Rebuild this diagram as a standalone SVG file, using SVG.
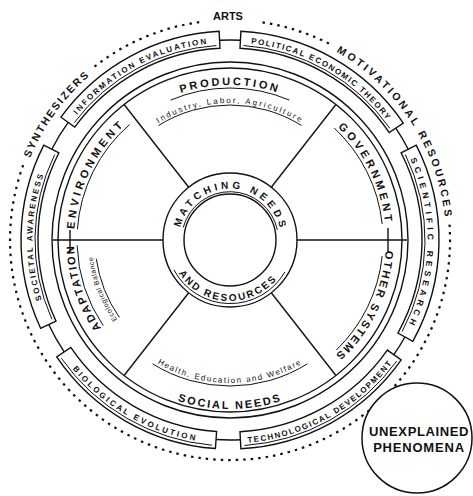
<svg xmlns="http://www.w3.org/2000/svg" width="473" height="496" viewBox="0 0 473 496">
<style>
.ln{fill:none;stroke:#111;stroke-width:1.4}
.th{fill:none;stroke:#111;stroke-width:1}
.box{fill:#fff;stroke:#111;stroke-width:1.4}
.dot{fill:none;stroke:#111;stroke-width:2.2;stroke-dasharray:2.5 5}
.t{font-family:"Liberation Sans",Arial,sans-serif;font-weight:bold;fill:#111}
.s{font-family:"Liberation Sans",Arial,sans-serif;fill:#111}
</style>
<defs>
<path id="p-synth" d="M27.0,166.1 A216,216 0 0 1 97.0,69.8"/>
<path id="p-motiv" d="M328.1,47.5 A216,216 0 0 1 445.7,228.7"/>
<path id="p-info" d="M70.2,123.9 A197.5,197.5 0 0 1 219.7,42.8"/>
<path id="p-pol" d="M240.3,42.8 A197.5,197.5 0 0 1 393.7,129.6"/>
<path id="p-right" d="M406.0,150.3 A197.5,197.5 0 0 1 402.7,335.7"/>
<path id="p-tech" d="M240.7,443.2 A203.5,203.5 0 0 0 396.7,356.7"/>
<path id="p-bio" d="M61.3,353.8 A203.5,203.5 0 0 0 215.8,443.0"/>
<path id="p-soc" d="M51.0,323.5 A197.5,197.5 0 0 1 54.0,150.3"/>
<path id="p-prod" d="M134.6,117.9 A155,155 0 0 1 325.4,117.9"/>
<path id="p-ind" d="M145.7,132.0 A137,137 0 0 1 314.3,132.0"/>
<path id="p-gov" d="M330.3,120.5 A156,156 0 0 1 385.9,234.6"/>
<path id="p-other" d="M385.9,245.4 A156,156 0 0 1 330.3,359.5"/>
<path id="p-social" d="M126.0,373.2 A169,169 0 0 0 334.0,373.2"/>
<path id="p-health" d="M142.0,352.7 A143,143 0 0 0 318.0,352.7"/>
<path id="p-adapt" d="M125.6,355.9 A156,156 0 0 1 77.4,207.6"/>
<path id="p-env" d="M74,240 A156,156 0 0 1 134.0,117.1"/>
<path id="p-eco" d="M137.7,342.6 A138,138 0 0 1 92.8,225.6"/>
<path id="p-match" d="M179.1,236.4 A51,51 0 0 1 281,240"/>
<path id="p-andres" d="M173.4,262.9 A61,61 0 0 0 283.9,268.6"/>
</defs>
<rect width="473" height="496" fill="#fff"/>

<g id="outer-ring">
<path class="dot" d="M262.5,22.4 A220,220 0 0 1 329.9,44.0"/>
<path class="dot" d="M94.5,66.6 A220,220 0 0 1 199.4,22.1"/>
<path class="dot" d="M449.5,224.7 A220,220 0 1 1 23.3,164.8"/>
</g>
<g id="arts"><text class="t" x="228" y="20" font-size="11" text-anchor="middle">ARTS</text></g>
<g id="synthesizers"><text class="t" font-size="10.5" letter-spacing="1.9"><textPath href="#p-synth" startOffset="50%" text-anchor="middle">SYNTHESIZERS</textPath></text></g>
<g id="motivational-resources"><text class="t" font-size="10.5" letter-spacing="2.7"><textPath href="#p-motiv" startOffset="50%" text-anchor="middle">MOTIVATIONAL RESOURCES</textPath></text></g>

<g id="connectors">
<path class="ln" d="M219.5,40.3 A200,200 0 0 1 240.5,40.3"/>
<path class="ln" d="M395.8,128.2 A200,200 0 0 1 408.2,149.2"/>
<path class="ln" d="M404.9,337.0 A200,200 0 0 1 393.8,354.7"/>
<path class="ln" d="M240.5,439.7 A200,200 0 0 1 216.0,439.5"/>
<path class="ln" d="M64.2,351.8 A200,200 0 0 1 48.7,324.5"/>
<path class="ln" d="M51.8,149.2 A200,200 0 0 1 68.2,122.4"/>
<line class="ln" x1="271.3" y1="187.2" x2="335.9" y2="104.5"/>
<line class="ln" x1="188.7" y1="187.2" x2="124.1" y2="104.5"/>
<line class="ln" x1="188.7" y1="292.8" x2="124.1" y2="375.5"/>
<line class="ln" x1="271.3" y1="292.8" x2="335.9" y2="375.5"/>
<line class="ln" x1="297" y1="240" x2="407" y2="240"/>
<line class="ln" x1="163" y1="240" x2="53" y2="240"/>
<line class="ln" x1="70" y1="230" x2="70" y2="252"/>
<line class="ln" x1="388" y1="228" x2="388" y2="252"/>
</g>

<g id="box-information-evaluation">
<path class="box" d="M60.9,117.2 A209,209 0 0 1 219.1,31.3 L220.0,48.3 A192,192 0 0 0 74.7,127.1 Z"/>
<path class="th" d="M74.3,122.6 A195,195 0 0 1 216.4,45.5"/>
<text class="t" font-size="8" letter-spacing="2"><textPath href="#p-info" startOffset="50%" text-anchor="middle">INFORMATION EVALUATION</textPath></text>
</g>
<g id="box-political-economic-theory">
<path class="box" d="M240.9,31.3 A209,209 0 0 1 403.3,123.1 L389.2,132.6 A192,192 0 0 0 240.0,48.3 Z"/>
<path class="th" d="M243.6,45.5 A195,195 0 0 1 389.7,128.2"/>
<text class="t" font-size="8" letter-spacing="1.5"><textPath href="#p-pol" startOffset="50%" text-anchor="middle">POLITICAL ECONOMIC THEORY</textPath></text>
</g>
<g id="box-right">
<path class="box" d="M416.2,145.1 A209,209 0 0 1 412.8,341.3 L397.9,333.1 A192,192 0 0 0 401.1,152.8 Z"/>
<path class="th" d="M405.3,154.5 A195,195 0 0 1 402.2,331.5"/>
<text class="t" font-size="8.5" letter-spacing="4"><textPath href="#p-right" startOffset="50%" text-anchor="middle">SCIENTIFIC RESEARCH</textPath></text>
</g>
<g id="box-technology">
<path class="box" d="M401.2,359.9 A209,209 0 0 1 240.9,448.7 L240.0,431.7 A192,192 0 0 0 387.3,350.1 Z"/>
<path class="th" d="M244.4,445.5 A206,206 0 0 0 396.7,361.1"/>
<text class="t" font-size="8" letter-spacing="1.5"><textPath href="#p-tech" startOffset="50%" text-anchor="middle">TECHNOLOGICAL DEVELOPMENT</textPath></text>
</g>
<g id="box-biological-evolution">
<path class="box" d="M215.4,448.5 A209,209 0 0 1 56.7,356.9 L70.8,347.4 A192,192 0 0 0 216.6,431.5 Z"/>
<path class="th" d="M61.3,358.2 A206,206 0 0 0 212.0,445.2"/>
<text class="t" font-size="8" letter-spacing="2.4"><textPath href="#p-bio" startOffset="50%" text-anchor="middle">BIOLOGICAL EVOLUTION</textPath></text>
</g>
<g id="box-societal-awareness">
<path class="box" d="M40.6,328.3 A209,209 0 0 1 43.8,145.1 L58.9,152.8 A192,192 0 0 0 56.0,321.1 Z"/>
<path class="th" d="M51.9,319.3 A195,195 0 0 1 54.7,154.5"/>
<text class="t" font-size="8" letter-spacing="2"><textPath href="#p-soc" startOffset="50%" text-anchor="middle">SOCIETAL AWARENESS</textPath></text>
</g>

<g id="wheel">
<circle class="ln" cx="230" cy="240" r="178"/>
<circle class="ln" cx="230" cy="240" r="172"/>
</g>
<g id="production">
<text class="t" font-size="11" letter-spacing="2.6"><textPath href="#p-prod" startOffset="50%" text-anchor="middle">PRODUCTION</textPath></text>
<path class="th" d="M170.6,100.1 A152,152 0 0 1 289.4,100.1"/>
<text class="s" font-size="8" letter-spacing="2"><textPath href="#p-ind" startOffset="50%" text-anchor="middle">Industry, Labor, Agriculture</textPath></text>
<path class="th" d="M158.5,125.5 A135,135 0 0 1 301.5,125.5"/>
</g>
<g id="government">
<text class="t" font-size="11" letter-spacing="3.2"><textPath href="#p-gov" startOffset="50%" text-anchor="middle">GOVERNMENT</textPath></text>
<path class="th" d="M334.3,128.1 A153,153 0 0 1 382.2,224.0"/>
</g>
<g id="other-systems">
<text class="t" font-size="11" letter-spacing="2"><textPath href="#p-other" startOffset="50%" text-anchor="middle">OTHER SYSTEMS</textPath></text>
<path class="th" d="M382.2,256.0 A153,153 0 0 1 336.3,350.1"/>
</g>
<g id="social-needs">
<text class="t" font-size="11" letter-spacing="2"><textPath href="#p-social" startOffset="50%" text-anchor="middle">SOCIAL NEEDS</textPath></text>
<text class="s" font-size="8" letter-spacing="1.5"><textPath href="#p-health" startOffset="50%" text-anchor="middle">Health, Education and Welfare</textPath></text>
<path class="th" d="M152.6,363.8 A146,146 0 0 0 307.4,363.8"/>
</g>
<g id="adaptation">
<text class="t" font-size="11" letter-spacing="1.9"><textPath href="#p-adapt" startOffset="50%" text-anchor="middle">ADAPTATION</textPath></text>
<path class="th" d="M103.2,325.6 A153,153 0 0 1 77.1,245.3"/>
<text class="s" font-size="7" letter-spacing="0.5"><textPath href="#p-eco" startOffset="50%" text-anchor="middle">Ecological Balance</textPath></text>
<path class="th" d="M119.4,317.4 A135,135 0 0 1 96.3,258.8"/>
</g>
<g id="environment">
<text class="t" font-size="11" letter-spacing="3.5"><textPath href="#p-env" startOffset="50%" text-anchor="middle">ENVIRONMENT</textPath></text>
<path class="th" d="M77.4,229.3 A153,153 0 0 1 129.6,124.5"/>
</g>

<g id="hub">
<circle class="ln" cx="230" cy="240" r="67" fill="#fff"/>
<circle class="ln" cx="230" cy="240" r="46"/>
<text class="t" font-size="10" letter-spacing="3.5"><textPath href="#p-match" startOffset="50%" text-anchor="middle">MATCHING NEEDS</textPath></text>
<path class="th" d="M183.2,227.5 A48.5,48.5 0 0 1 277.4,229.9"/>
<text class="t" font-size="10" letter-spacing="2.1"><textPath href="#p-andres" startOffset="50%" text-anchor="middle">AND RESOURCES</textPath></text>
<path class="th" d="M173.9,269.8 A63.5,63.5 0 0 0 285.0,271.8"/>
</g>

<g id="unexplained-phenomena">
<circle cx="417" cy="438" r="55" fill="#fff" stroke="#111" stroke-width="1.5"/>
<text class="t" x="419" y="436" font-size="13" letter-spacing="0.6" text-anchor="middle">UNEXPLAINED</text>
<text class="t" x="419" y="452" font-size="13" letter-spacing="0.8" text-anchor="middle">PHENOMENA</text>
</g>
</svg>
